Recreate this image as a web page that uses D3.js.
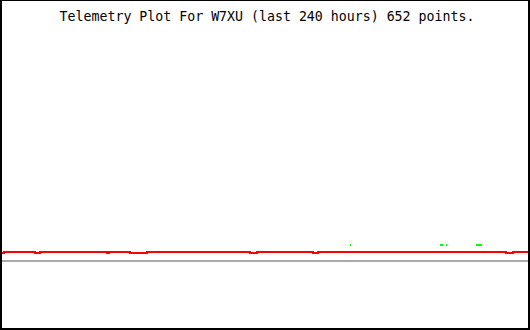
<!DOCTYPE html>
<html>
<head>
<meta charset="utf-8">
<script src="https://cdn.jsdelivr.net/npm/d3@7"></script>
<style>
  body { margin: 0; background: #fff; }
  svg { display: block; }
</style>
</head>
<body>
<svg width="530" height="330"></svg>
<script>
// title
var title_text = "Telemetry Plot For W7XU (last 240 hours) 652 points.";

// red channel, [hours ago (neg), value] step points
var red_times  = [-240, -238.6, -224.5, -222.2, -191.5, -190.8, -181.3, -173.5, -126.6, -123.4, -97.9, -95.6, -10.0, -6.9, 0];
var red_values = [8,    9,      8,      9,      8,      9,      8,      9,      8,      9,      8,     9,     8,     9,    9];

// green channel, sparse readings
var green_times  = [-81.1, -40.1, -39.6, -39.2, -37.4, -23.7, -23.2, -22.8, -22.4, -21.9, -21.5];
var green_values = [16,    16,    16,    16,    16,    16,    16,    16,    16,    16,    16];

// gray reference line
var ref_times  = [-240, 0];
var ref_values = [0, 0];

var width = 530, height = 330;
var svg = d3.select("svg")
    .style("font-family", "'DejaVu Sans Mono', monospace")
    .attr("shape-rendering", "crispEdges");

var x = d3.scaleLinear().domain([-240, 0]).range([1, 528]);
var y = d3.scaleLinear().domain([0, 230]).range([261, 31]);

// reference line
var ref_data = ref_times.map((t, i) => [t, ref_values[i]]);
svg.append("path")
    .datum(ref_data)
    .attr("fill", "none")
    .attr("stroke", "#aaaaaa")
    .attr("stroke-width", 2)
    .attr("d", d3.line().x(d => x(d[0])).y(d => y(d[1])));

// red series
var red_data = red_times.map((t, i) => [t, red_values[i]]);
svg.append("path")
    .datum(red_data)
    .attr("fill", "none")
    .attr("stroke", "#ff0000")
    .attr("stroke-width", 2)
    .attr("d", d3.line().curve(d3.curveStepAfter).x(d => x(d[0])).y(d => y(d[1])));

// green points
var green_data = green_times.map((t, i) => [t, green_values[i]]);
svg.selectAll(".gpt")
    .data(green_data)
    .enter()
    .append("rect")
    .attr("class", "gpt")
    .attr("x", d => Math.round(x(d[0])))
    .attr("y", d => y(d[1]) - 1)
    .attr("width", 1)
    .attr("height", 2)
    .attr("fill", "#00ff00");

// frame
svg.append("line").attr("x1", 1).attr("x2", 1).attr("y1", 0).attr("y2", height)
    .attr("stroke", "#000").attr("stroke-width", 2);
svg.append("line").attr("x1", 529).attr("x2", 529).attr("y1", 0).attr("y2", height)
    .attr("stroke", "#000").attr("stroke-width", 2);
svg.append("line").attr("x1", 0).attr("x2", width).attr("y1", 0.5).attr("y2", 0.5)
    .attr("stroke", "#000").attr("stroke-width", 1);
svg.append("line").attr("x1", 0).attr("x2", width).attr("y1", 329).attr("y2", 329)
    .attr("stroke", "#000").attr("stroke-width", 2);

// title
svg.append("text")
    .attr("x", 267)
    .attr("y", 21)
    .attr("text-anchor", "middle")
    .attr("font-size", "13.25px")
    .attr("fill", "#000")
    .text(title_text);
</script>
</body>
</html>
